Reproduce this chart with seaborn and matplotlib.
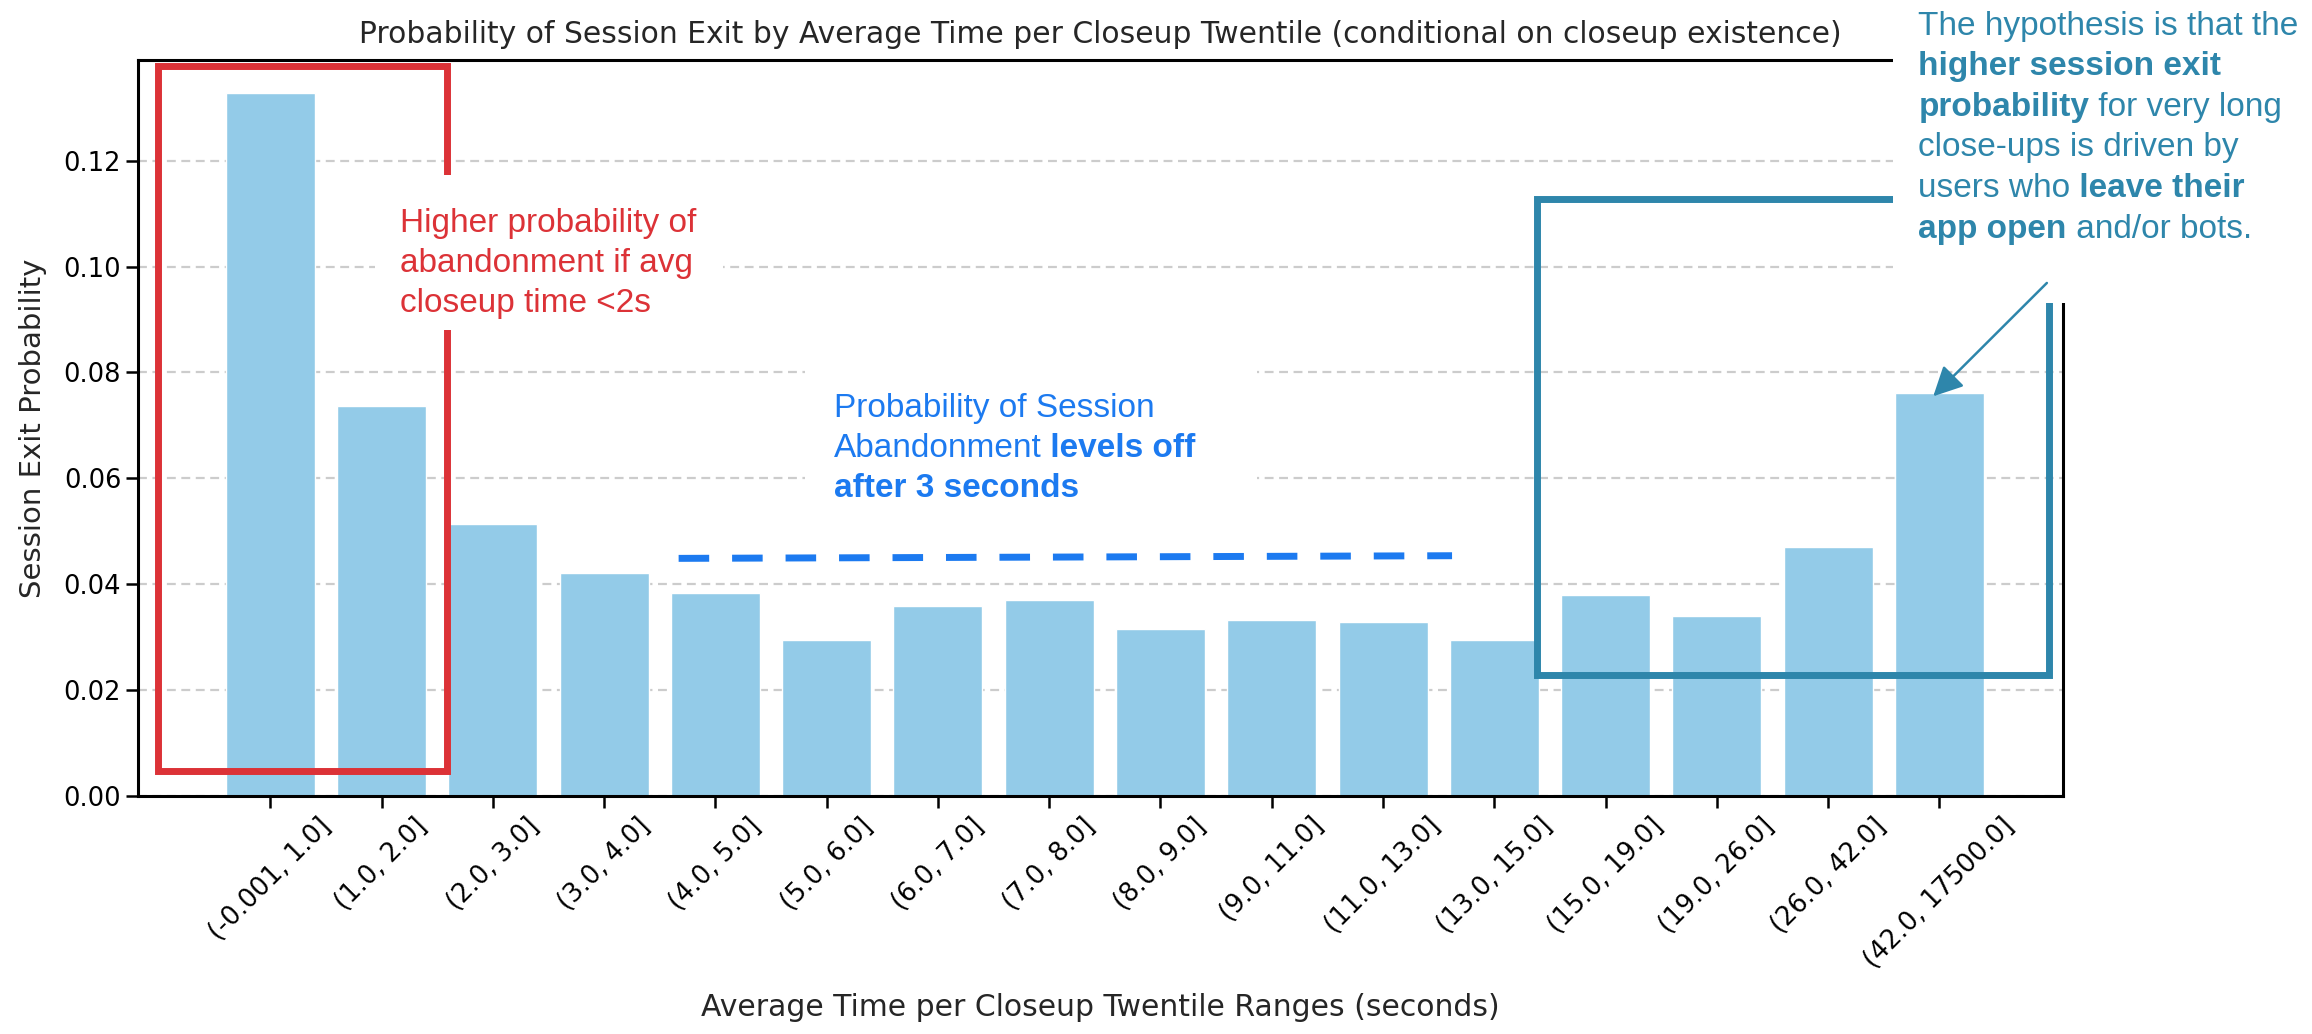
import matplotlib
matplotlib.use('Agg')
import matplotlib.pyplot as plt
from matplotlib.patches import Rectangle
import seaborn as sns
import pandas as pd

# Twentile ranges and the session exit probability
ranges = ['(-0.001, 1.0]', '(1.0, 2.0]', '(2.0, 3.0]', '(3.0, 4.0]', '(4.0, 5.0]',
          '(5.0, 6.0]', '(6.0, 7.0]', '(7.0, 8.0]', '(8.0, 9.0]', '(9.0, 11.0]',
          '(11.0, 13.0]', '(13.0, 15.0]', '(15.0, 19.0]', '(19.0, 26.0]',
          '(26.0, 42.0]', '(42.0, 17500.0]']
exit_prob = [0.1328, 0.0737, 0.0513, 0.0421, 0.0384, 0.0295, 0.0360, 0.0370,
             0.0315, 0.0332, 0.0328, 0.0295, 0.0380, 0.0341, 0.0471, 0.0761]

df = pd.DataFrame({'range': ranges, 'prob': exit_prob})

RED = '#dc3237'
BLUE = '#1c7af0'
TEAL = '#2e86ab'
ANNOT_FONT = 'Liberation Sans'

sns.set_style('ticks')
plt.rcParams['font.family'] = ['DejaVu Sans']

fig = plt.figure(figsize=(23.12, 10.34), dpi=100)
ax = fig.add_axes([0.0596, 0.230, 0.8327, 0.712])

sns.barplot(data=df, x='range', y='prob', color='#93cbe8', saturation=1, width=0.8, ax=ax)

ax.set_xlim(-1.19, 16.11)
ax.set_ylim(0, 0.139)
ax.set_yticks([0.0, 0.02, 0.04, 0.06, 0.08, 0.10, 0.12])
ax.yaxis.grid(True, linestyle='--', color='#cccccc', linewidth=1.6, dashes=(4, 2.5))
ax.xaxis.grid(False)

for s in ax.spines.values():
    s.set_visible(True)
    s.set_color('black')
    s.set_linewidth(2.2)
ax.tick_params(axis='both', colors='black', length=8.5, width=1.8, labelsize=18.5)
ax.tick_params(axis='x', labelrotation=45)

ax.set_title('Probability of Session Exit by Average Time per Closeup Twentile '
             '(conditional on closeup existence)', fontsize=21.4, pad=12)
ax.set_xlabel('Average Time per Closeup Twentile Ranges (seconds)', fontsize=21.5, labelpad=14)
ax.set_ylabel('Session Exit Probability', fontsize=21, labelpad=12)

# highlight boxes
ax.add_patch(Rectangle((-1.01, 0.0048), 2.60, 0.1331, fill=False, edgecolor=RED,
                       linewidth=5, zorder=3, clip_on=False))
ax.add_patch(Rectangle((11.38, 0.0229), 4.60, 0.0899, fill=False, edgecolor=TEAL,
                       linewidth=5, zorder=3, clip_on=False))

# level-off line
ax.plot([3.67, 10.62], [0.0449, 0.0454], color=BLUE, linewidth=5,
        dashes=(4.4, 3.3), zorder=3)

# white backgrounds behind the callouts
for (x0, y0, x1, y1) in [(0.94, 0.0881, 4.07, 0.1172),
                         (4.81, 0.0522, 8.87, 0.0838),
                         (14.58, 0.0932, 18.6, 0.17)]:
    ax.add_patch(Rectangle((x0, y0), x1 - x0, y1 - y0, facecolor='white',
                           edgecolor='none', zorder=4, clip_on=False))


def rich_line(x, y, parts, color, size=24):
    prev = None
    for txt, bold in parts:
        kw = dict(color=color, fontsize=size, fontweight='bold' if bold else 'normal',
                  family=ANNOT_FONT, zorder=6)
        if prev is None:
            prev = ax.text(x, y, txt, va='baseline', ha='left', clip_on=False, **kw)
        else:
            prev = ax.annotate(txt, xy=(1, 0), xycoords=prev, va='bottom', ha='left', **kw)


red_lines = [[('Higher probability of', False)],
             [('abandonment if avg', False)],
             [('closeup time <2s', False)]]
for i, parts in enumerate(red_lines):
    rich_line(1.165, 0.10657 - i * 0.00756, parts, RED)

blue_lines = [[('Probability of Session', False)],
              [('Abandonment', False), (' levels off', True)],
              [('after 3 seconds', True)]]
for i, parts in enumerate(blue_lines):
    rich_line(5.062, 0.07163 - i * 0.00755, parts, BLUE)

hypo_lines = [[('The hypothesis is that the', False)],
              [('higher session exit', True)],
              [('probability', True), (' for very long', False)],
              [('close-ups is driven by', False)],
              [('users who', False), (' leave their', True)],
              [('app open', True), (' and/or bots.', False)]]
for i, parts in enumerate(hypo_lines):
    rich_line(14.81, 0.14379 - i * 0.00767, parts, TEAL)

ax.annotate('', xy=(14.944, 0.0755), xytext=(15.965, 0.0969),
            arrowprops=dict(arrowstyle='-|>,head_length=0.6,head_width=0.3', color=TEAL,
                            lw=1.8, mutation_scale=30, shrinkA=0, shrinkB=0),
            zorder=6)

fig.savefig('out.png', dpi=100)
